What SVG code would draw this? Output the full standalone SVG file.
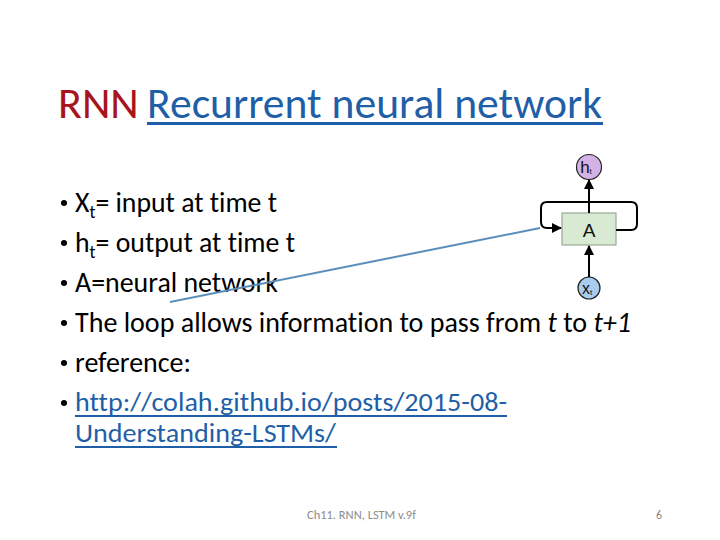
<svg xmlns="http://www.w3.org/2000/svg" width="720" height="540" viewBox="0 0 720 540">
<style>
text{font-variant-ligatures:none;font-feature-settings:"liga" 0,"clig" 0}
.body{font-family:"Carlito","Lato","Liberation Sans",sans-serif;font-size:28px;fill:#000}
.title{font-family:"Carlito","Lato","Liberation Sans",sans-serif;font-size:44px}
.link{fill:#1f5fa8}
.url{font-size:26px}
.foot{font-family:"Carlito","Lato","Liberation Sans",sans-serif;font-size:12px;fill:#8c8c8c}
.wire{fill:none;stroke:#000;stroke-width:2}
.lbl{font-family:"Liberation Sans",Arial,sans-serif;fill:#111}
</style>
<defs>
<marker id="ah" viewBox="0 0 10 10" refX="9" refY="5" markerWidth="5" markerHeight="5" orient="auto" markerUnits="strokeWidth">
<path d="M0,0 L10,5 L0,10 z" fill="#000"/>
</marker>
</defs>
<rect width="720" height="540" fill="#fff"/>

<g id="title">
<text class="title" x="58" y="118"><tspan fill="#a8141c">RNN</tspan></text>
<text class="title link" x="147" y="118" textLength="455" lengthAdjust="spacingAndGlyphs">Recurrent neural network</text>
<rect x="147" y="122" width="456" height="3" fill="#1f5fa8"/>
</g>

<g id="bullets">
<circle cx="64" cy="203" r="3" fill="#000"/>
<text class="body" x="75" y="212" textLength="202" lengthAdjust="spacingAndGlyphs">X<tspan font-size="18" dy="6">t</tspan><tspan dy="-6">= input at time t</tspan></text>
<circle cx="64" cy="243" r="3" fill="#000"/>
<text class="body" x="75" y="252" textLength="220" lengthAdjust="spacingAndGlyphs">h<tspan font-size="18" dy="6">t</tspan><tspan dy="-6">= output at time t</tspan></text>
<circle cx="64" cy="283" r="3" fill="#000"/>
<text class="body" x="75" y="292" textLength="203" lengthAdjust="spacingAndGlyphs">A=neural network</text>
<circle cx="64" cy="323" r="3" fill="#000"/>
<text class="body" x="75" y="332" textLength="556" lengthAdjust="spacingAndGlyphs">The loop allows information to pass from <tspan font-style="italic">t</tspan> to <tspan font-style="italic">t+1</tspan></text>
<circle cx="64" cy="363" r="3" fill="#000"/>
<text class="body" x="75" y="372" textLength="116" lengthAdjust="spacingAndGlyphs">reference:</text>
<circle cx="64" cy="403" r="3" fill="#000"/>
<text class="body link url" x="75" y="411" textLength="432" lengthAdjust="spacingAndGlyphs">http://colah.github.io/posts/2015-08-</text>
<rect x="75" y="415" width="432" height="2" fill="#1f5fa8"/>
<text class="body link url" x="75" y="442" textLength="261" lengthAdjust="spacingAndGlyphs">Understanding-LSTMs/</text>
<rect x="75" y="446" width="262" height="2" fill="#1f5fa8"/>
</g>

<g id="node-A">
<rect x="562" y="213" width="54" height="32" fill="#d9ead3" stroke="#8a9a86" stroke-width="1"/>
<text class="lbl" x="589" y="237" font-size="19" text-anchor="middle">A</text>
</g>
<g id="node-h">
<circle cx="589" cy="167" r="12.5" fill="#d5b2e6" stroke="#222" stroke-width="1.2"/>
<text class="lbl" x="586" y="173" font-size="17" text-anchor="middle">h<tspan font-size="8" dy="1">t</tspan></text>
</g>
<g id="node-x">
<circle cx="589" cy="288" r="11" fill="#a9cbed" stroke="#222" stroke-width="1.2"/>
<text class="lbl" x="587" y="294" font-size="16" text-anchor="middle">x<tspan font-size="8" dy="1">t</tspan></text>
</g>

<g id="connectors">
<path class="wire" d="M616,230 H631 Q637,230 637,224 V208 Q637,202 631,202 H547 Q541,202 541,208 V222 Q541,228 547,228 H561" marker-end="url(#ah)"/>
<line class="wire" x1="589" y1="213" x2="589" y2="180" marker-end="url(#ah)"/>
<line class="wire" x1="589" y1="277" x2="589" y2="246" marker-end="url(#ah)"/>
<line x1="170" y1="302" x2="540" y2="228" stroke="#5b8dbb" stroke-width="2"/>
</g>

<g id="footer">
<text class="foot" x="307" y="519" textLength="109" lengthAdjust="spacingAndGlyphs">Ch11. RNN, LSTM  v.9f</text>
<text class="foot" x="656" y="519">6</text>
</g>
</svg>
